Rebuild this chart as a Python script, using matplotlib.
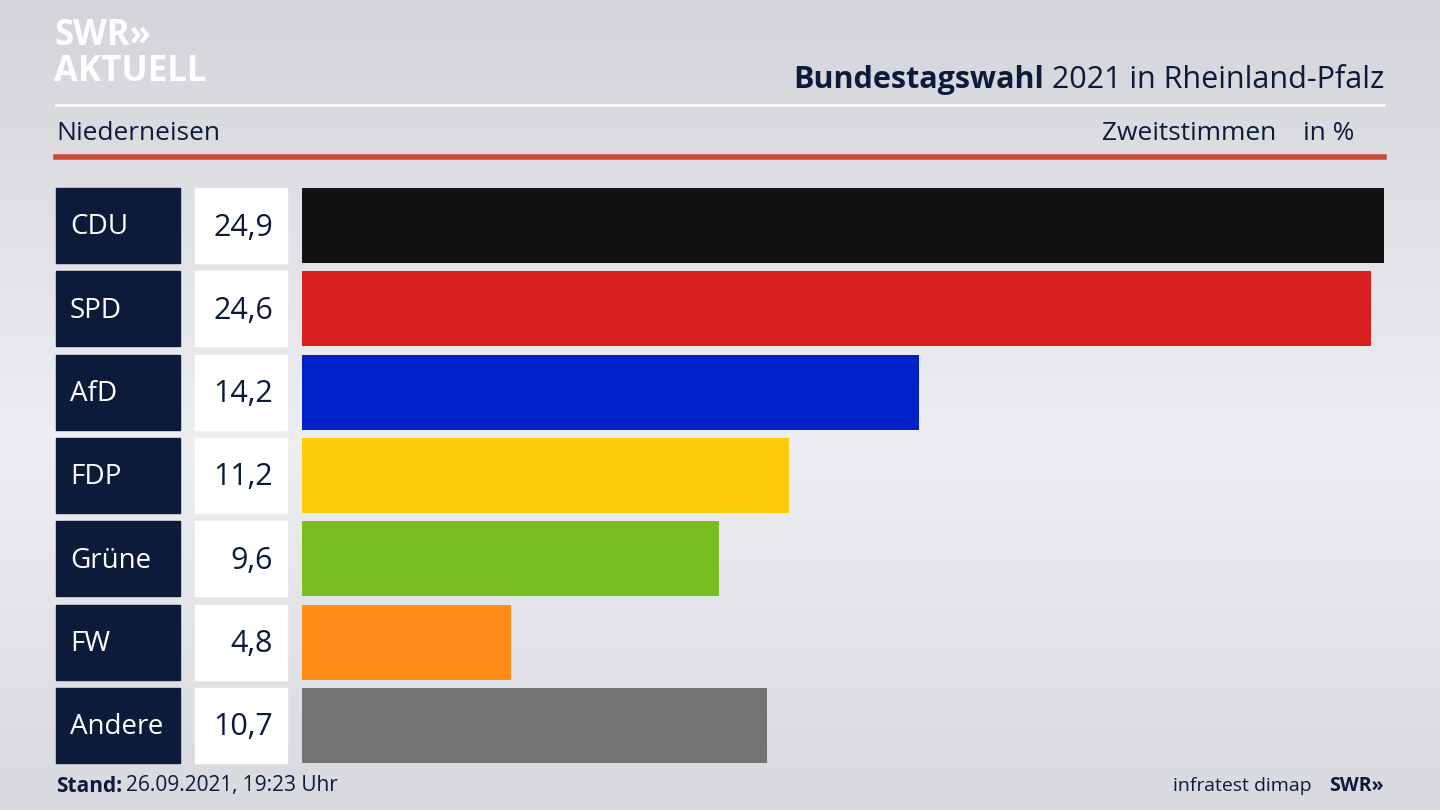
import matplotlib
matplotlib.use("Agg")
import matplotlib.pyplot as plt
import numpy as np
from matplotlib.patches import Rectangle
from matplotlib.colors import LinearSegmentedColormap

parties = ["CDU", "SPD", "AfD", "FDP", "Grüne", "FW", "Andere"]
values = [24.9, 24.6, 14.2, 11.2, 9.6, 4.8, 10.7]
colors = ["#111111", "#d8201f", "#0020c8", "#ffcc0a", "#78be1e", "#ff8c18", "#737373"]

W, H = 1440, 810
NAVY = "#0c1b3a"
plt.rcParams["font.family"] = "Open Sans"

fig = plt.figure(figsize=(14.4, 8.1), dpi=100)
bg = fig.add_axes([0, 0, 1, 1])
bg.set_xlim(0, W)
bg.set_ylim(H, 0)
bg.axis("off")
grad = np.linspace(0, 1, 200)
grad = 1 - np.abs(grad - 0.55) * 1.6
bg.imshow(grad[:, None], extent=[0, W, H, 0], aspect="auto",
          cmap=LinearSegmentedColormap.from_list("g", ["#d3d5da", "#eceef1"]))

# logo
bg.text(54, 54, "SWR»", fontsize=25, fontweight="bold", color="white", va="bottom")
bg.text(54, 90, "AKTUELL", fontsize=25, fontweight="bold", color="white", va="bottom")

# header
bg.plot([56, 1384], [105, 105], color="white", lw=2)
bg.plot([56, 1384], [157, 157], color="#cd4a3a", lw=4)
t2 = bg.text(1384, 80, " 2021 in Rheinland-Pfalz", fontsize=22, color=NAVY,
             ha="right", va="center")
fig.canvas.draw()
x_bold = t2.get_window_extent().x0 * W / fig.bbox.width
bg.text(x_bold, 80, "Bundestagswahl", fontsize=22, fontweight="bold", color=NAVY,
        ha="right", va="center")
bg.text(56, 134, "Niederneisen", fontsize=19, color=NAVY, va="center")
bg.text(1276, 134, "Zweitstimmen", fontsize=19, color=NAVY, va="center", ha="right")
bg.text(1354, 134, "in %", fontsize=19, color=NAVY, va="center", ha="right")

# rows
top, h, pitch = 188, 75, 83.3
for i, (p, v) in enumerate(zip(parties, values)):
    y = top + i * pitch
    bg.add_patch(Rectangle((56, y), 124, h, color=NAVY))
    bg.add_patch(Rectangle((195, y), 92, h, color="white"))
    bg.text(70, y + h / 2 + 2, p, fontsize=20, color="white", va="center")
    bg.text(273, y + h / 2 + 2, f"{v:.1f}".replace(".", ","), fontsize=22, color=NAVY,
            va="center", ha="right")

bar_ax = fig.add_axes([302 / W, 1 - (top + 6 * pitch + h) / H, (1384 - 302) / W,
                       (6 * pitch + h) / H])
bar_ax.set_xlim(0, max(values))
bar_ax.set_ylim(6 * pitch + h, 0)
bar_ax.axis("off")
bar_ax.barh([i * pitch + h / 2 for i in range(len(values))], values, height=h,
            color=colors)

# footer
bg.text(56, 786, "Stand:", fontsize=15, fontweight="bold", color=NAVY, va="center")
bg.text(126, 786, "26.09.2021, 19:23 Uhr", fontsize=15, color=NAVY, va="center")
bg.text(1312, 786, "infratest dimap", fontsize=14, color=NAVY, va="center", ha="right")
bg.text(1384, 786, "SWR»", fontsize=14, fontweight="bold", color=NAVY, va="center",
        ha="right")

fig.savefig("out.png", dpi=100)
